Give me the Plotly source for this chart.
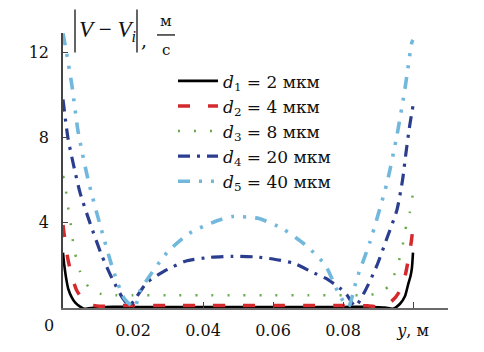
import plotly.graph_objects as go

# ---------------- data ----------------
d1_x = [0, 0.0003, 0.0007, 0.001, 0.0015, 0.0025, 0.0035, 0.005, 0.006, 0.008, 0.012, 0.02, 0.03, 0.04, 0.05,
        0.06, 0.07, 0.08, 0.088, 0.092, 0.0943, 0.0963, 0.0977, 0.0986, 0.0993, 0.0997, 0.1]
d1_y = [2.6, 2.1, 1.6, 1.3, 0.9, 0.5, 0.25, 0.05, -0.04, 0.0, 0.05, 0.05, 0.05, 0.05, 0.05,
        0.05, 0.05, 0.05, 0.05, 0.02, -0.04, 0.2, 0.55, 1.1, 1.5, 1.9, 2.6]

d2_x = [0, 0.0007, 0.0014, 0.0025, 0.004, 0.006, 0.008, 0.0105, 0.015, 0.02, 0.03, 0.04, 0.05, 0.06,
        0.07, 0.08, 0.087, 0.091, 0.093, 0.095, 0.0969, 0.098, 0.0989, 0.0995, 0.1]
d2_y = [3.9, 3.0, 2.3, 1.5, 0.8, 0.35, 0.15, 0.08, 0.12, 0.12, 0.12, 0.12, 0.12, 0.12,
        0.12, 0.12, 0.1, 0.05, 0.2, 0.5, 1.0, 1.7, 2.5, 3.1, 3.8]

d3_x = [0, 0.0006, 0.0011, 0.002, 0.0026, 0.0034, 0.0049, 0.0077, 0.011, 0.015, 0.02, 0.03, 0.04,
        0.05, 0.06, 0.07, 0.08, 0.086, 0.089, 0.0915, 0.0934, 0.0954, 0.0969, 0.0977, 0.0991, 0.1]
d3_y = [6.2, 5.9, 5.1, 4.2, 3.4, 2.6, 1.7, 0.9, 0.65, 0.6, 0.6, 0.6, 0.6,
        0.6, 0.6, 0.6, 0.6, 0.6, 0.65, 0.8, 1.1, 1.9, 2.8, 3.6, 4.5, 5.4]

d4_x = [0, 0.0014, 0.0029, 0.0049, 0.0077, 0.011, 0.014, 0.0171, 0.019, 0.0205, 0.024, 0.0286, 0.035,
        0.042, 0.0486, 0.055, 0.06, 0.066, 0.071, 0.075, 0.079, 0.081, 0.0835, 0.0863, 0.0897,
        0.0926, 0.0954, 0.097, 0.098, 0.099, 0.1]
d4_y = [9.8, 8.0, 6.8, 5.4, 4.0, 2.5, 1.4, 0.45, 0.1, 0.4, 1.2, 1.7, 2.2,
        2.38, 2.43, 2.4, 2.3, 2.1, 1.7, 1.4, 0.95, 0.64, 0.08, 0.8, 2.0,
        3.3, 4.6, 6.0, 7.3, 8.5, 9.5]

d5_x = [0, 0.001, 0.0026, 0.0043, 0.0072, 0.0106, 0.0143, 0.0175, 0.0205, 0.022, 0.0297, 0.036,
        0.044, 0.0486, 0.056, 0.063, 0.0697, 0.075, 0.079, 0.0815, 0.084, 0.0877, 0.0926,
        0.0954, 0.0977, 0.0997, 0.1]
d5_y = [12.9, 12.0, 10.4, 8.3, 6.0, 3.9, 1.8, 0.45, 0.02, 0.8, 2.6, 3.5,
        4.1, 4.3, 4.2, 3.7, 2.9, 2.0, 0.6, 0.05, 1.4, 3.1, 5.9,
        8.1, 10.3, 12.5, 12.6]

series_names = ["<i>d</i><sub>1</sub> = 2 мкм", "<i>d</i><sub>2</sub> = 4 мкм", "<i>d</i><sub>3</sub> = 8 мкм",
                "<i>d</i><sub>4</sub> = 20 мкм", "<i>d</i><sub>5</sub> = 40 мкм"]
x_tickvals = [0.02, 0.04, 0.06, 0.08, 0.1]
x_ticktext = ["0.02", "0.04", "0.06", "0.08", "<i>y</i>, м"]
y_tickvals = [4, 8, 12]
y_ticktext = ["4", "8", "12"]

# ---------------- styles ----------------
FONT = "DejaVu Serif"
LFONT = "Liberation Serif"
styles = [
    dict(color="#000000", width=2.6, dash="solid"),
    dict(color="#d42a2e", width=3.5, dash="12px,18px"),
    dict(color="#6bab4e", width=2.5, dash="2px,14px"),
    dict(color="#2a3d8f", width=3.2, dash="12px,7px,3px,7px"),
    dict(color="#72b8dc", width=3.6, dash="12px,9px,3px,9px,3px,9px"),
]

fig = go.Figure()
all_x = [d1_x, d2_x, d3_x, d4_x, d5_x]
all_y = [d1_y, d2_y, d3_y, d4_y, d5_y]
for xs, ys, nm, st in zip(all_x, all_y, series_names, styles):
    fig.add_trace(go.Scatter(x=xs, y=ys, mode="lines", name=nm,
                             line=dict(shape="spline", smoothing=0.6, **st),
                             cliponaxis=False))

W, H = 484, 352
L, R, T, B = 63, 36, 33, 38
pw, ph = W - L - R, H - T - B


def px(x):
    return (x - L) / pw


def py(y):
    return (H - B - y) / ph


fig.update_layout(
    width=W, height=H,
    margin=dict(l=L, r=R, t=T, b=B, pad=0),
    paper_bgcolor="white", plot_bgcolor="white",
    font=dict(family=FONT, size=16, color="#111"),
    showlegend=True,
    legend=dict(x=px(173), y=py(64), xanchor="left", yanchor="top",
                bgcolor="rgba(0,0,0,0)", font=dict(family=FONT, size=17, color="#111"),
                tracegroupgap=0, itemwidth=40),
    xaxis=dict(range=[0, 0.11], showgrid=False, zeroline=False,
               showline=True, linecolor="#6a6a6a", linewidth=1.5,
               ticks="inside", ticklen=6, tickwidth=1.2, tickcolor="#444",
               tickvals=x_tickvals, ticktext=x_ticktext, ticklabelstandoff=7,
               tickfont=dict(family=FONT, size=16, color="#111")),
    yaxis=dict(range=[0, (H - B - T) / 21.75], showgrid=False, zeroline=False,
               showline=True, linecolor="#444", linewidth=1.5,
               ticks="inside", ticklen=5, tickwidth=1.2, tickcolor="#444",
               tickvals=y_tickvals, ticktext=y_ticktext, ticklabelstandoff=9,
               tickfont=dict(family=FONT, size=16, color="#111")),
)

# y-axis title |V - V_i|, м/с and origin label
ann = [
    dict(x=px(107), y=py(31), text="<i>V</i> − <i>V<sub>i</sub></i>", font=dict(family=LFONT, size=23, color="#111")),
    dict(x=px(144), y=py(40), text=",", font=dict(family=FONT, size=19, color="#111")),
    dict(x=px(166), y=py(21), text="м", font=dict(family=FONT, size=15, color="#111")),
    dict(x=px(166), y=py(50), text="с", font=dict(family=FONT, size=15, color="#111")),
    dict(x=px(49), y=py(332), text="0", font=dict(family=FONT, size=16, color="#111")),
]
for a in ann:
    fig.add_annotation(xref="paper", yref="paper", showarrow=False,
                       xanchor="center", yanchor="middle", **a)

for x0, y0, x1, y1 in [(75, 9, 75, 53), (137, 9, 137, 53), (157, 35, 175, 35)]:
    fig.add_shape(type="line", xref="paper", yref="paper",
                  x0=px(x0), y0=py(y0), x1=px(x1), y1=py(y1),
                  line=dict(color="#111", width=1.3))

fig.write_html("out.html")
